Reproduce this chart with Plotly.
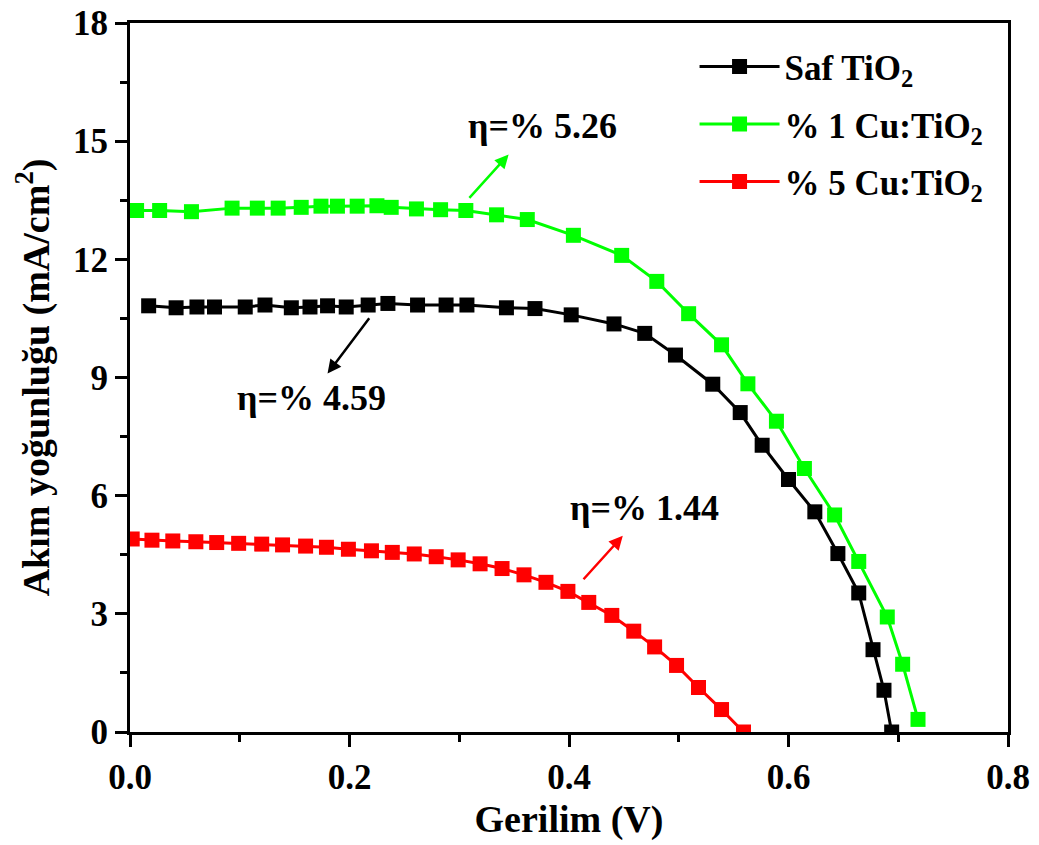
import plotly.graph_objects as go

# Data
v_saf = [0.017, 0.042, 0.061, 0.077, 0.105, 0.123, 0.147, 0.164, 0.180, 0.197, 0.217, 0.235,
         0.262, 0.288, 0.307, 0.343, 0.369, 0.402, 0.441, 0.469, 0.497, 0.531, 0.556, 0.576,
         0.600, 0.624, 0.645, 0.664, 0.677, 0.687, 0.694]
j_saf = [10.82, 10.77, 10.79, 10.79, 10.79, 10.84, 10.77, 10.79, 10.82, 10.79, 10.84, 10.88,
         10.84, 10.84, 10.84, 10.77, 10.75, 10.59, 10.36, 10.12, 9.57, 8.83, 8.11, 7.28,
         6.41, 5.59, 4.53, 3.53, 2.09, 1.06, 0.0]

v_cu1 = [0.006, 0.027, 0.056, 0.093, 0.116, 0.135, 0.156, 0.174, 0.189, 0.207, 0.225, 0.238,
         0.261, 0.283, 0.306, 0.334, 0.362, 0.404, 0.448, 0.480, 0.509, 0.539, 0.563, 0.589,
         0.6145, 0.642, 0.664, 0.690, 0.704, 0.718]
j_cu1 = [13.24, 13.24, 13.21, 13.30, 13.30, 13.30, 13.32, 13.35, 13.35, 13.35, 13.36, 13.32,
         13.28, 13.26, 13.24, 13.13, 13.01, 12.61, 12.10, 11.44, 10.62, 9.83, 8.84, 7.89,
         6.69, 5.51, 4.33, 2.92, 1.72, 0.32]

v_cu5 = [0.002, 0.020, 0.039, 0.060, 0.079, 0.099, 0.120, 0.139, 0.160, 0.179, 0.199, 0.220,
         0.239, 0.259, 0.279, 0.299, 0.319, 0.339, 0.359, 0.379, 0.399, 0.418, 0.439, 0.459,
         0.478, 0.498, 0.518, 0.539, 0.559]
j_cu5 = [4.90, 4.87, 4.85, 4.83, 4.81, 4.79, 4.77, 4.75, 4.72, 4.69, 4.64, 4.60,
         4.56, 4.52, 4.45, 4.37, 4.27, 4.15, 3.99, 3.80, 3.57, 3.29, 2.96, 2.56,
         2.16, 1.69, 1.13, 0.57, 0.0]

names = ["Saf TiO<sub>2</sub>", "% 1 Cu:TiO<sub>2</sub>", "% 5 Cu:TiO<sub>2</sub>"]
colors = ["#000000", "#00FF00", "#FF0000"]

x_ticks = [0.0, 0.2, 0.4, 0.6, 0.8]
x_tick_labels = ["0.0", "0.2", "0.4", "0.6", "0.8"]
y_ticks = [0, 3, 6, 9, 12, 15, 18]

eff_labels = ["η=% 4.59", "η=% 5.26", "η=% 1.44"]
eff_text_pos = [(0.165, 8.47), (0.376, 15.39), (0.469, 5.69)]
eff_arrow_tail = [(0.219, 10.54), (0.308, 13.52), (0.412, 3.84)]
eff_arrow_head = [(0.180, 9.10), (0.345, 14.66), (0.449, 4.98)]

FONT = "Liberation Serif"

fig = go.Figure()
for i, (v, j, n, c) in enumerate(zip([v_saf, v_cu1, v_cu5], [j_saf, j_cu1, j_cu5], names, colors)):
    fig.add_trace(go.Scatter(
        x=v, y=j, name=n, mode="lines+markers", legendgroup=f"g{i}",
        line=dict(color=c, width=3),
        marker=dict(symbol="square", size=15, color=c),
    ))

for lab, tp, tail, head, c in zip(eff_labels, eff_text_pos, eff_arrow_tail, eff_arrow_head, colors):
    fig.add_annotation(x=tp[0], y=tp[1], xref="x", yref="y", text=lab, showarrow=False,
                       font=dict(family=FONT, size=36, color="#000000", weight="bold"))
    fig.add_annotation(x=head[0], y=head[1], ax=tail[0], ay=tail[1], xref="x", yref="y",
                       axref="x", ayref="y", text="", showarrow=True, arrowhead=2,
                       arrowsize=1.1, arrowwidth=2.5, arrowcolor=c)

axis_common = dict(
    showline=True, linewidth=3, linecolor="#000000", mirror=True,
    ticks="outside", ticklen=12, tickwidth=3, tickcolor="#000000",
    showgrid=False, zeroline=False, automargin=False, ticklabeloverflow="allow",
    tickfont=dict(family=FONT, size=35, color="#000000", weight="bold"),
)

fig.update_xaxes(
    range=[0, 0.8], tickvals=x_ticks, ticktext=x_tick_labels,
    title=dict(text="Gerilim (V)", font=dict(family=FONT, size=38, color="#000000", weight="bold"),
               standoff=10),
    minor=dict(dtick=0.1, tick0=0, ticks="outside", ticklen=7, tickwidth=3, tickcolor="#000000"),
    **axis_common,
)
fig.update_yaxes(
    range=[0, 18], tickvals=y_ticks,
    title=dict(text="Akım yoğunluğu (mA/cm<sup>2</sup>)",
               font=dict(family=FONT, size=38, color="#000000", weight="bold"), standoff=12),
    minor=dict(dtick=1.5, tick0=0, ticks="outside", ticklen=7, tickwidth=3, tickcolor="#000000"),
    **axis_common,
)

fig.update_layout(
    width=1031, height=837, autosize=False,
    margin=dict(l=122, r=31, t=15, b=113),
    plot_bgcolor="white", paper_bgcolor="white",
    legend=dict(x=0.643, y=0.98, xanchor="left", yanchor="top",
                font=dict(family=FONT, size=35, color="#000000", weight="bold"),
                itemwidth=80, tracegroupgap=9, bgcolor="rgba(0,0,0,0)"),
    showlegend=True,
)

fig.write_html("out.html")
